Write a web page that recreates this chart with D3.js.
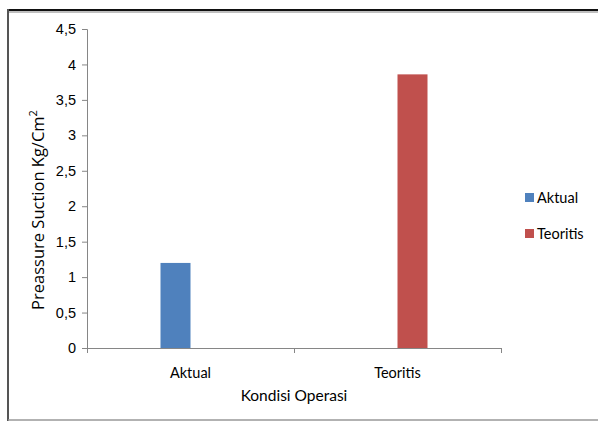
<!DOCTYPE html>
<html>
<head>
<meta charset="utf-8">
<script src="https://cdn.jsdelivr.net/npm/d3@7"></script>
<style>
  body { margin: 0; background: #fff; }
  svg { display: block; font-family: Lato, "Open Sans", sans-serif; }
</style>
</head>
<body>
<svg id="chart" width="598" height="421"></svg>
<script>
// data
var categories = ["Aktual", "Teoritis"];
var seriesNames = ["Aktual", "Teoritis"];
var aktualValues = [1.2, null];
var teoritisValues = [null, 3.86];
var yTicks = [0, 0.5, 1, 1.5, 2, 2.5, 3, 3.5, 4, 4.5];
var colors = { "Aktual": "#4F81BD", "Teoritis": "#C0504D" };

function init() {
  var svg = d3.select("#chart");
  var margin = { left: 87, right: 97, top: 29, bottom: 73 };
  var plotW = 598 - margin.left - margin.right;   // 414
  var plotH = 421 - margin.top - margin.bottom;   // 319

  // frame
  svg.append("line").attr("x1", 8).attr("x2", 598).attr("y1", 10).attr("y2", 10)
     .attr("stroke", "#111").attr("stroke-width", 2);
  svg.append("line").attr("x1", 8).attr("x2", 598).attr("y1", 12).attr("y2", 12)
     .attr("stroke", "#aaa").attr("stroke-width", 1.5);
  svg.append("line").attr("x1", 8).attr("x2", 8).attr("y1", 9).attr("y2", 421)
     .attr("stroke", "#555").attr("stroke-width", 2);
  svg.append("line").attr("x1", 8).attr("x2", 598).attr("y1", 420).attr("y2", 420)
     .attr("stroke", "#999").attr("stroke-width", 1.5);

  var g = svg.append("g").attr("transform", "translate(" + margin.left + "," + margin.top + ")");

  var x = d3.scaleBand().domain(categories).range([0, plotW]).padding(0);
  var y = d3.scaleLinear().domain([0, 4.5]).range([plotH, 0]);
  var groupW = 60;
  var xInner = d3.scaleBand().domain(seriesNames).range([0, groupW]);

  // y axis
  var yAxis = g.append("g")
     .call(d3.axisLeft(y).tickValues(yTicks).tickSize(5).tickPadding(6)
       .tickFormat(function(d) { return String(d).replace(".", ","); }));
  yAxis.select(".domain").attr("stroke", "#868686").attr("d", "M0.5," + (plotH + 0.5) + "V0.5");
  yAxis.selectAll(".tick line").attr("stroke", "#868686").attr("x1", 0.5);
  yAxis.selectAll("text").attr("font-size", 14.5).attr("fill", "#000");

  // x axis
  var xAxisG = g.append("g").attr("transform", "translate(0," + plotH + ")");
  xAxisG.append("line").attr("x1", 0).attr("x2", plotW).attr("y1", 0.5).attr("y2", 0.5)
     .attr("stroke", "#868686");
  xAxisG.selectAll(".xtick")
     .data([0, plotW / 2, plotW])
     .enter().append("line")
     .attr("x1", function(d) { return d + 0.5; })
     .attr("x2", function(d) { return d + 0.5; })
     .attr("y1", 0).attr("y2", 5)
     .attr("stroke", "#868686");
  xAxisG.selectAll(".xlab")
     .data(categories)
     .enter().append("text")
     .attr("x", function(d) { return x(d) + x.bandwidth() / 2; })
     .attr("y", 30)
     .attr("text-anchor", "middle")
     .attr("font-size", 14.5)
     .attr("fill", "#000")
     .text(function(d) { return d; });

  // bars
  var rows = categories.map(function(c, i) {
    return { cat: c, vals: [
      { s: "Aktual", v: aktualValues[i] },
      { s: "Teoritis", v: teoritisValues[i] }
    ]};
  });
  var groups = g.selectAll(".grp")
     .data(rows)
     .enter().append("g")
     .attr("transform", function(d) {
       return "translate(" + (x(d.cat) + x.bandwidth() / 2 - groupW / 2) + ",0)";
     });
  groups.selectAll("rect")
     .data(function(d) { return d.vals.filter(function(e) { return e.v != null; }); })
     .enter().append("rect")
     .attr("x", function(d) { return xInner(d.s); })
     .attr("width", xInner.bandwidth())
     .attr("y", function(d) { return y(d.v); })
     .attr("height", function(d) { return plotH - y(d.v); })
     .attr("fill", function(d) { return colors[d.s]; });

  // axis titles
  svg.append("text")
     .attr("transform", "translate(44,210) rotate(-90)")
     .attr("text-anchor", "middle")
     .attr("font-family", "'Open Sans', sans-serif")
     .attr("font-size", 16.5)
     .attr("fill", "#000")
     .html("Preassure Suction Kg/Cm<tspan dy='-7' font-size='11'>2</tspan>");
  svg.append("text")
     .attr("x", margin.left + plotW / 2)
     .attr("y", 401)
     .attr("text-anchor", "middle")
     .attr("font-size", 15.5)
     .attr("fill", "#000")
     .text("Kondisi Operasi");

  // legend
  var legend = svg.selectAll(".leg")
     .data(seriesNames)
     .enter().append("g")
     .attr("transform", function(d, i) { return "translate(525," + (193 + i * 36) + ")"; });
  legend.append("rect").attr("width", 9).attr("height", 9)
     .attr("fill", function(d) { return colors[d]; });
  legend.append("text").attr("x", 12).attr("y", 9.5)
     .attr("font-size", 14.5).attr("fill", "#000")
     .text(function(d) { return d; });
}

init();
</script>
</body>
</html>
